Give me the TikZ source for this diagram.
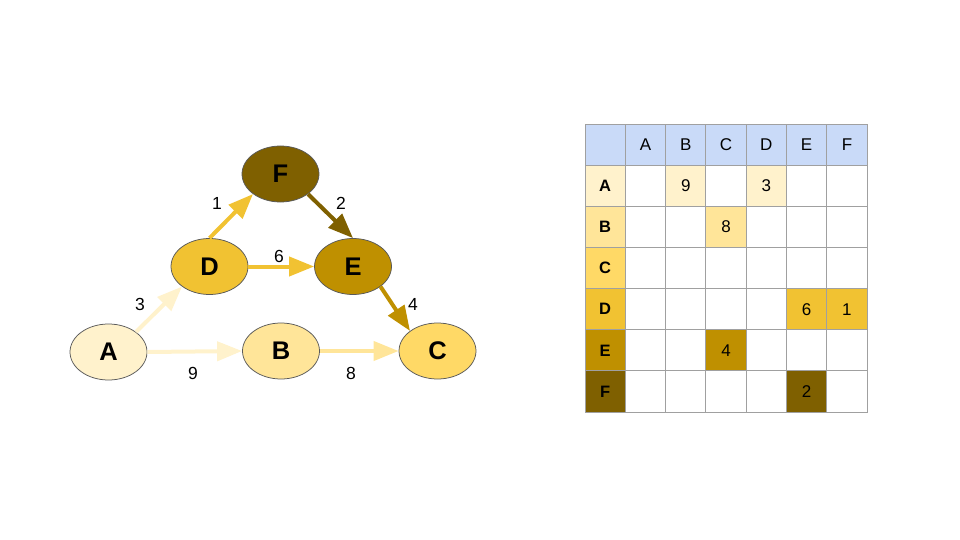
\documentclass[tikz,border=0pt]{standalone}
\usepackage{fontspec}
\setmainfont{Liberation Sans}
\usetikzlibrary{shapes.geometric,arrows.meta}
\definecolor{cA}{HTML}{FFF2CC}
\definecolor{cB}{HTML}{FFE599}
\definecolor{cC}{HTML}{FFD966}
\definecolor{cD}{HTML}{F1C232}
\definecolor{cE}{HTML}{BF9000}
\definecolor{cF}{HTML}{7F6000}
\definecolor{hdr}{HTML}{C9DAF8}
\definecolor{grid}{HTML}{A0A0A0}
\definecolor{rim}{HTML}{595959}
\tikzset{
  vert/.style={ellipse, draw=rim, line width=0.75pt, minimum width=77pt, minimum height=56pt, inner sep=0pt, font=\fontsize{25.5}{25.5}\selectfont\bfseries},
  edge/.style={line width=4pt, -{Triangle[length=25pt,width=19pt]}},
  wlab/.style={font=\fontsize{17.5}{17.5}\selectfont, inner sep=0pt},
  cell/.style={draw=grid, line width=1pt, minimum width=40.3pt, minimum height=41.15pt, inner sep=0pt, font=\fontsize{17}{17}\selectfont},
  rowlab/.style={cell, font=\fontsize{16.5}{16.5}\selectfont\bfseries},
}
\begin{document}
\begin{tikzpicture}[x=1pt,y=-1pt]
\useasboundingbox (0,0) rectangle (960,540);
% graph nodes
\node[vert, fill=cA] (A) at (108.5,352) {A};
\node[vert, fill=cB] (B) at (281,351) {B};
\node[vert, fill=cC] (C) at (437.5,351) {C};
\node[vert, fill=cD] (D) at (209.5,266.5) {D};
\node[vert, fill=cE] (E) at (353,266.5) {E};
\node[vert, fill=cF] (F) at (280.5,174) {F};
% edges
\draw[edge, cA] (A.north east) -- (D.south west);
\draw[edge, cA] (A.east) -- (B.west);
\draw[edge, cB] (B.east) -- (C.west);
\draw[edge, cD] (D.east) -- (E.west);
\draw[edge, cD] (D.north) -- (F.south west);
\draw[edge, cF] (F.south east) -- (E.north);
\draw[edge, cE] (E.south east) -- (C.north west);
% weights
\node[wlab] (w1) at (217,203.5) {1};
\node[wlab] (w2) at (341,203.5) {2};
\node[wlab] (w6) at (279,256.5) {6};
\node[wlab] (w3) at (140,304) {3};
\node[wlab] (w4) at (413,304) {4};
\node[wlab] (w9) at (193,373) {9};
\node[wlab] (w8) at (351,373) {8};
% table
\foreach \name [count=\i from 0] in {,A,B,C,D,E,F}{
  \node[cell, fill=hdr] (h\i) at ({605.15+40.3*\i},144.6) {\name};
}
\foreach \name/\col [count=\r from 1] in {A/cA,B/cB,C/cC,D/cD,E/cE,F/cF}{
  \node[rowlab, fill=\col] (r\r) at (605.15,{144.6+41.15*\r}) {\name};
  \foreach \c in {1,...,6}{
    \node[cell] (m\r\c) at ({605.15+40.3*\c},{144.6+41.15*\r}) {};
  }
}
\node[cell, fill=cA] (vAB) at (m12) {9};
\node[cell, fill=cA] (vAD) at (m14) {3};
\node[cell, fill=cB] (vBC) at (m23) {8};
\node[cell, fill=cD] (vDE) at (m45) {6};
\node[cell, fill=cD] (vDF) at (m46) {1};
\node[cell, fill=cE] (vEC) at (m53) {4};
\node[cell, fill=cF] (vFE) at (m65) {2};
\end{tikzpicture}
\end{document}
